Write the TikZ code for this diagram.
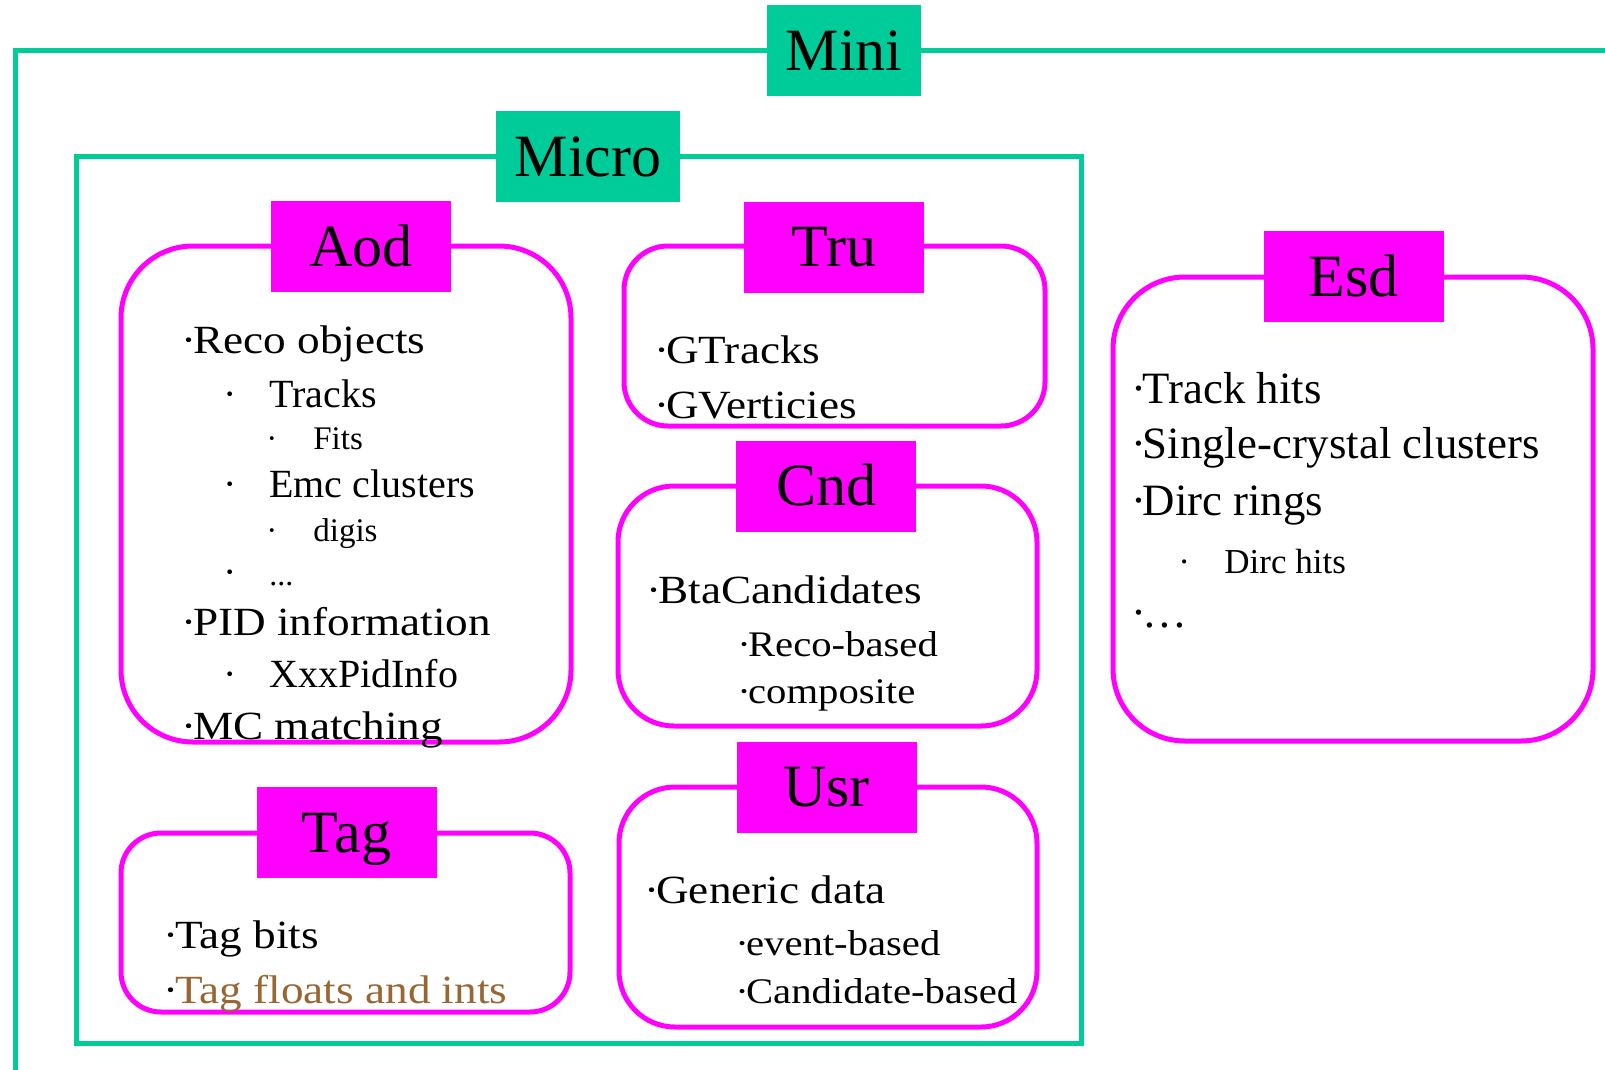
\documentclass[tikz,border=0pt]{standalone}
\usepackage{fontspec}
\setmainfont{Liberation Serif}
\newfontfamily\widefont{Liberation Serif}[FakeStretch=1.13]
\usepackage{xcolor}
\usepackage{tikz}
\usetikzlibrary{positioning}
\definecolor{minigreen}{HTML}{00CC99}
\definecolor{boxmagenta}{HTML}{FF00FF}
\definecolor{tagbrown}{HTML}{996633}
\newcommand{\bul}{·\kern-0.08em}

\begin{document}
\begin{tikzpicture}[
  x=0.5pt, y=-0.5pt,
  frame/.style={draw=minigreen, line width=2.5pt},
  group/.style={draw=boxmagenta, line width=2.5pt},
  tab/.style={rectangle, inner sep=0pt, minimum width=90pt,
              minimum height=45.5pt, text height=19.9pt, text depth=0pt,
              font=\fontsize{30}{36}\selectfont},
  greentab/.style={tab, fill=minigreen},
  magtab/.style={tab, fill=boxmagenta},
  lvlone/.style={anchor=base west, inner sep=0pt,
                 font=\widefont\fontsize{20}{24}\selectfont},
  lvltwo/.style={anchor=base west, inner sep=0pt,
                 font=\fontsize{20}{24}\selectfont},
  lvlthree/.style={anchor=base west, inner sep=0pt,
                   font=\fontsize{16.5}{20}\selectfont},
  subwide/.style={anchor=base west, inner sep=0pt,
                  font=\widefont\fontsize{18}{22}\selectfont},
  esdtxt/.style={anchor=base west, inner sep=0pt,
                 font=\fontsize{22.4}{26}\selectfont},
  esdsub/.style={anchor=base west, inner sep=0pt,
                 font=\fontsize{17.5}{21}\selectfont}
]
\useasboundingbox (0,0) rectangle (1605,1070);
\clip (0,0) rectangle (1605,1070);

% Mini and Micro frames
\draw[frame] (15,1100) -- (15,51) -- (1640,51);
\node[greentab, minimum width=77pt] (mini) at (844,51) {Mini};
\draw[frame] (76,156) rectangle (1081,1043);
\node[greentab, minimum width=92pt] (micro) at (588,156.5) {Micro};

% Aod
\draw[group, rounded corners=36pt] (121,246) rectangle (571,742);
\node[magtab] (aod) at (361,246.5) {Aod};
\node[lvlone] (aod1) at (181,353) {\bul Reco objects};
\node[lvltwo] (aod2) at (223,407) {\makebox[23pt][l]{·}Tracks};
\node[lvlthree] (aod3) at (266,449) {\makebox[23.5pt][l]{·}Fits};
\node[lvltwo] (aod4) at (223,497) {\makebox[23pt][l]{·}Emc clusters};
\node[lvlthree] (aod5) at (266,541) {\makebox[23.5pt][l]{·}digis};
\node[lvltwo] (aod6) at (223,585) {\makebox[23pt][l]{·}{\fontsize{16}{19}\selectfont ...}};
\node[lvlone] (aod7) at (181,635) {\bul PID information};
\node[lvltwo] (aod8) at (223,687) {\makebox[23pt][l]{·}XxxPidInfo};
\node[lvlone] (aod9) at (181,739) {\bul MC matching};

% Tru
\draw[group, rounded corners=22pt] (624,246) rectangle (1045,426);
\node[magtab] (tru) at (834,247) {Tru};
\node[lvlone] (tru1) at (654,363) {\bul GTracks};
\node[lvlone] (tru2) at (654,418) {\bul GVerticies};

% Cnd
\draw[group, rounded corners=28pt] (618,486) rectangle (1037,726);
\node[magtab] (cnd) at (826,486) {Cnd};
\node[lvlone] (cnd1) at (646,603) {\bul BtaCandidates};
\node[subwide] (cnd2) at (737,656) {\bul Reco-based};
\node[subwide] (cnd3) at (737,703) {\bul composite};

% Usr
\draw[group, rounded corners=28pt] (619,787) rectangle (1037,1027);
\node[magtab] (usr) at (826.5,787) {Usr};
\node[lvlone] (usr1) at (644,903) {\bul Generic data};
\node[subwide] (usr2) at (735,955) {\bul event-based};
\node[subwide] (usr3) at (735,1003) {\bul Candidate-based};

% Tag
\draw[group, rounded corners=20pt] (121,833) rectangle (570,1012);
\node[magtab] (tag) at (346.5,832.5) {Tag};
\node[lvlone] (tag1) at (163,948) {\bul Tag bits};
\node[lvlone] (tag2) at (163,1003) {\bul\textcolor{tagbrown}{Tag floats and ints}};

% Esd
\draw[group, rounded corners=36pt] (1113,277) rectangle (1593,741);
\node[magtab] (esd) at (1353.5,276.5) {Esd};
\node[esdtxt] (esd1) at (1131,403) {\bul Track hits};
\node[esdtxt] (esd2) at (1131,458) {\bul Single-crystal clusters};
\node[esdtxt] (esd3) at (1131,515) {\bul Dirc rings};
\node[esdsub] (esd4) at (1178,573) {\makebox[23pt][l]{·}Dirc hits};
\node[esdtxt] (esd5) at (1131,627) {\bul …};

\end{tikzpicture}
\end{document}
